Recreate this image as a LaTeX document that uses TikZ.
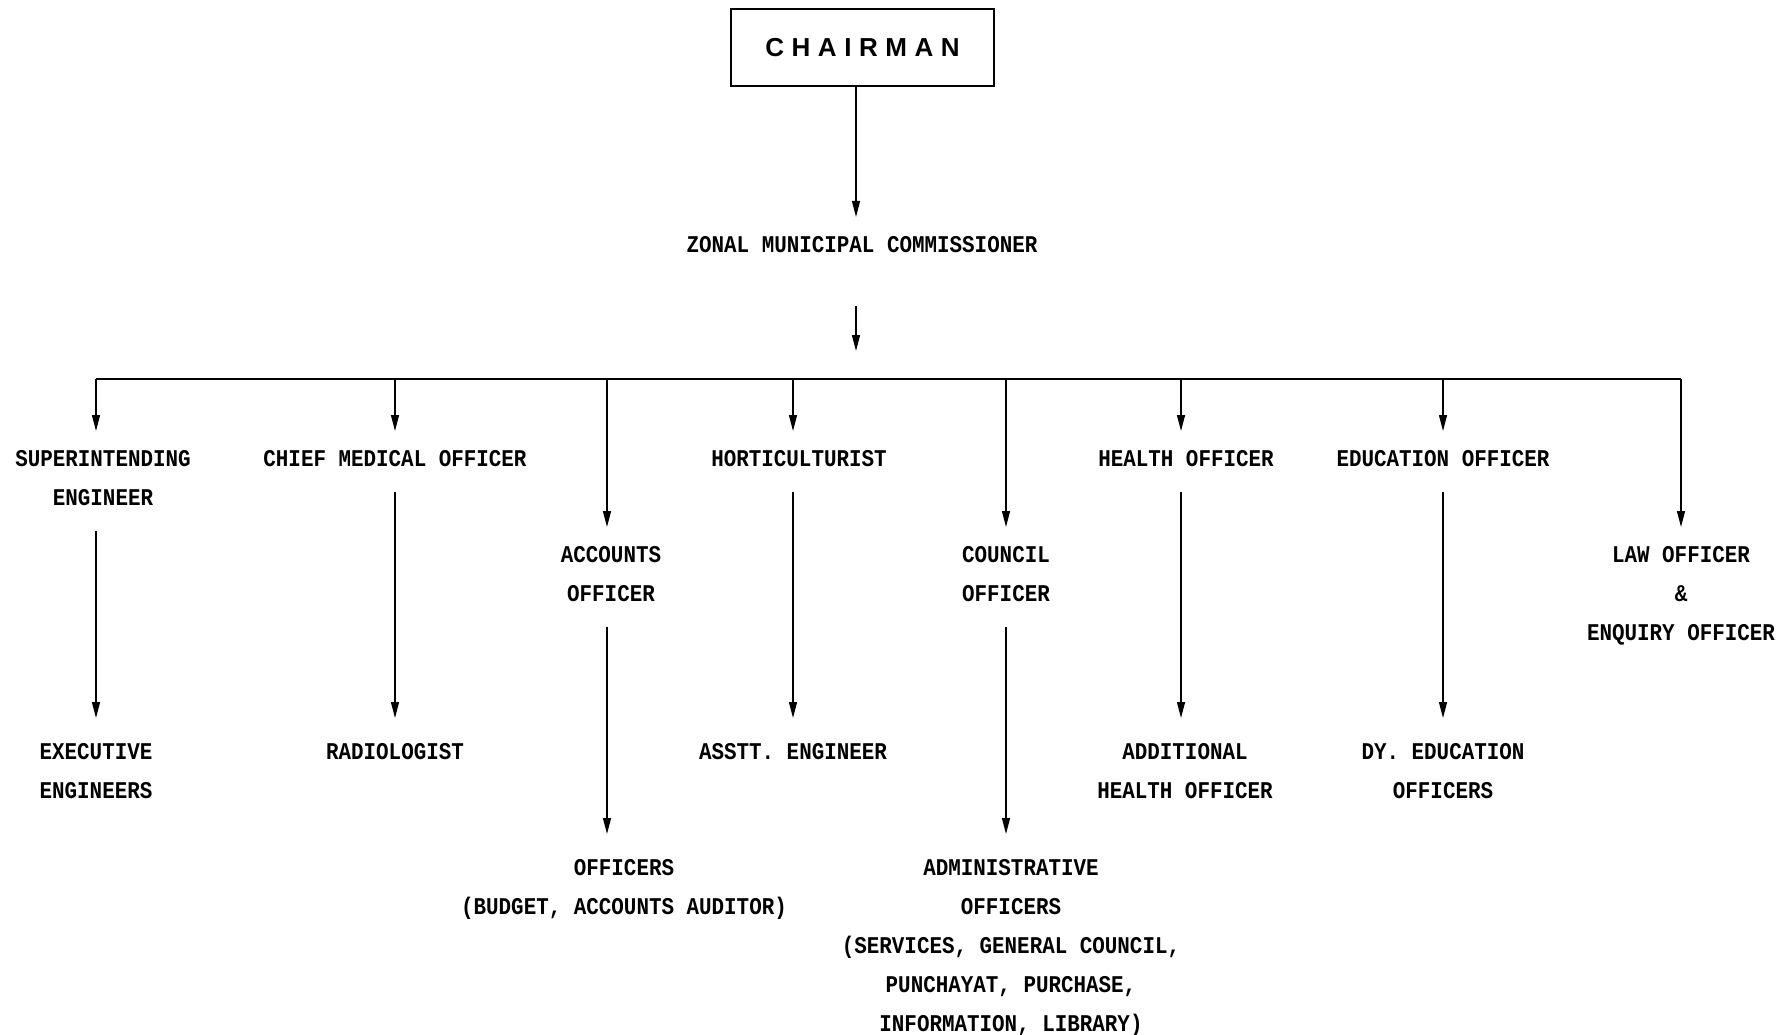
\documentclass[tikz,border=0pt]{standalone}
\usepackage{fontspec}
\setmainfont{Liberation Serif}
\newfontfamily\chartfont[FakeStretch=0.87]{Liberation Mono}
\newfontfamily\boxfont[LetterSpace=29]{Liberation Sans}
\usetikzlibrary{arrows.meta}
\begin{document}
\begin{tikzpicture}[x=1pt,y=1pt,
  lbl/.style={font=\chartfont\bfseries\fontsize{24}{39}\selectfont, align=center, inner sep=0pt, anchor=north},
  wire/.style={line width=1.4pt},
  conn/.style={wire, -{Triangle[length=16pt,width=8pt]}},
  topconn/.style={conn, shorten >=19pt},
  subconn/.style={conn, shorten <=25pt, shorten >=25pt}]
\useasboundingbox (0,0) rectangle (1792,-1035);
\fill[white] (0,0) rectangle (1792,-1035);

% chairman
\node[draw, line width=1.6pt, minimum width=263pt, minimum height=77pt, inner sep=0pt,
      font=\boxfont\bfseries\fontsize{26}{30}\selectfont] (chair) at (862.5,-47.5) {CHAIRMAN};

\coordinate (spine) at (856,0);
\node[lbl] (zonal) at (862,-236) {ZONAL MUNICIPAL COMMISSIONER};
\coordinate (zend) at (856,-351);

% bus coordinates
\coordinate (b1) at (96,-379);
\coordinate (b2) at (395,-379);
\coordinate (b3) at (607,-379);
\coordinate (b4) at (793,-379);
\coordinate (b5) at (1006,-379);
\coordinate (b6) at (1181,-379);
\coordinate (b7) at (1443,-379);
\coordinate (b8) at (1681,-379);

% first level
\node[lbl] (se)   at (103,-450)  {SUPERINTENDING\\ENGINEER};
\node[lbl] (cmo)  at (395,-450)  {CHIEF MEDICAL OFFICER};
\node[lbl] (hort) at (799,-450)  {HORTICULTURIST};
\node[lbl] (hlth) at (1186,-450) {HEALTH OFFICER};
\node[lbl] (edu)  at (1443,-450) {EDUCATION OFFICER};
\node[lbl] (acc)  at (611,-546)  {ACCOUNTS\\OFFICER};
\node[lbl] (coun) at (1006,-546) {COUNCIL\\OFFICER};
\node[lbl] (law)  at (1681,-546) {LAW OFFICER\\\&\\ENQUIRY OFFICER};

% second level
\node[lbl] (exe)  at (96,-743)   {EXECUTIVE\\ENGINEERS};
\node[lbl] (rad)  at (395,-743)  {RADIOLOGIST};
\node[lbl] (asst) at (793,-743)  {ASSTT. ENGINEER};
\node[lbl] (addl) at (1185,-743) {ADDITIONAL\\HEALTH OFFICER};
\node[lbl] (dy)   at (1443,-743) {DY. EDUCATION\\OFFICERS};
\node[lbl] (offs) at (624,-859)  {OFFICERS\\(BUDGET, ACCOUNTS AUDITOR)};
\node[lbl] (adm)  at (1011,-859) {ADMINISTRATIVE\\OFFICERS\\(SERVICES, GENERAL COUNCIL,\\PUNCHAYAT, PURCHASE,\\INFORMATION, LIBRARY)};

% connectors
\draw[topconn] (chair.south -| spine) -- (zonal.north -| spine);
\draw[conn, shorten <=53pt] (zonal.south -| spine) -- (zend);
\draw[wire] (b1) -- (b8);

\draw[topconn] (b1) -- (se.north -| b1);
\draw[topconn] (b2) -- (cmo.north -| b2);
\draw[topconn] (b3) -- (acc.north -| b3);
\draw[topconn] (b4) -- (hort.north -| b4);
\draw[topconn] (b5) -- (coun.north -| b5);
\draw[topconn] (b6) -- (hlth.north -| b6);
\draw[topconn] (b7) -- (edu.north -| b7);
\draw[topconn] (b8) -- (law.north -| b8);

\draw[subconn] (se.south -| b1) -- (exe.north -| b1);
\draw[subconn] (cmo.south -| b2) -- (rad.north -| b2);
\draw[subconn] (acc.south -| b3) -- (offs.north -| b3);
\draw[subconn] (hort.south -| b4) -- (asst.north -| b4);
\draw[subconn] (coun.south -| b5) -- (adm.north -| b5);
\draw[subconn] (hlth.south -| b6) -- (addl.north -| b6);
\draw[subconn] (edu.south -| b7) -- (dy.north -| b7);
\end{tikzpicture}
\end{document}
